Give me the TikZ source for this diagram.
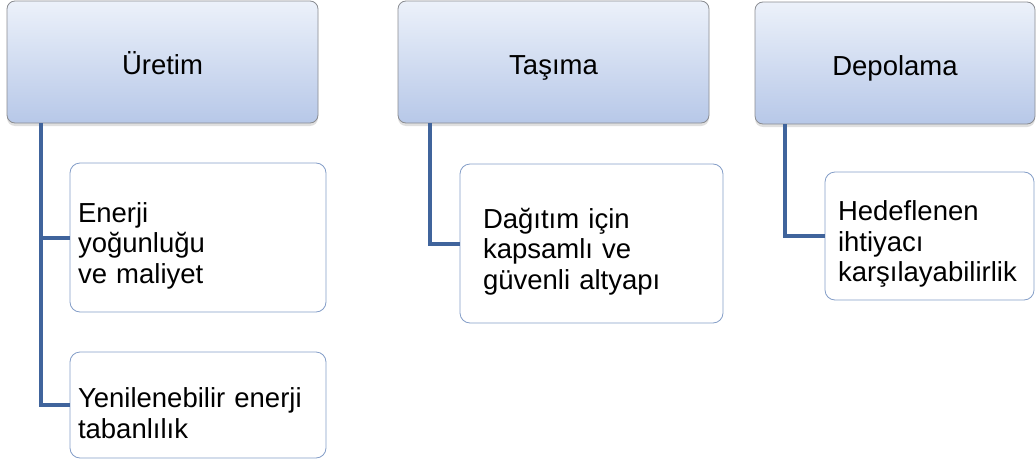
\documentclass[tikz,border=0pt]{standalone}
\usepackage{fontspec}
\setmainfont{Liberation Sans}
\usepackage{tikz}
\usetikzlibrary{shadows}

\definecolor{headtop}{RGB}{236,241,250}
\definecolor{headbot}{RGB}{183,200,232}
\definecolor{headline}{RGB}{138,140,145}
\definecolor{itemline}{RGB}{132,158,200}
\definecolor{branch}{RGB}{64,100,156}

\tikzset{
	head/.style={shape=rectangle, rounded corners=8pt, draw=headline, line width=0.8pt,
		top color=headtop, bottom color=headbot, minimum height=122pt,
		text height=26pt, text depth=2pt,
		drop shadow={shadow xshift=0pt, shadow yshift=-3pt, opacity=0.25},
		font=\fontsize{27.5}{31}\selectfont},
	item/.style={shape=rectangle, rounded corners=10pt, draw=itemline, line width=0.8pt,
		fill=white, align=left, inner ysep=0pt, font=\fontsize{27.5}{30.5}\selectfont,
		execute at begin node={\rule{0pt}{36pt}}},
	link/.style={draw=branch, line width=4pt}
}

\begin{document}
\begin{tikzpicture}[x=1pt, y=-1pt]
	\useasboundingbox (0,0) rectangle (1036,463);

	\node (uretim) at (162.5,62) [head, minimum width=311pt] {Üretim};
	\node (tasima) at (553.5,62) [head, minimum width=311pt] {Taşıma};
	\node (depolama) at (895,63) [head, minimum width=280pt] {Depolama};

	\node (enerji) at (198,237.5) [item, inner xsep=8pt, text width=240pt, minimum height=149pt] {Enerji\\yoğunluğu\\ve maliyet};
	\node (yenilenebilir) at (198,405) [item, inner xsep=8pt, text width=240pt, minimum height=106pt] {Yenilenebilir enerji\\tabanlılık};
	\node (dagitim) at (591.5,243.5) [item, inner xsep=23pt, text width=217pt, minimum height=159pt] {Dağıtım için\\kapsamlı ve\\güvenli altyapı};
	\node (hedef) at (929.5,236) [item, inner xsep=13pt, text width=183pt, minimum height=128pt] {Hedeflenen\\ihtiyacı\\karşılayabilirlik};

	\path	[link]	([xshift=34pt]uretim.south west)	edge[to path={|- (\tikztotarget)}]	(enerji.west)
						edge[to path={|- (\tikztotarget)}]	(yenilenebilir.west)
			([xshift=32pt]tasima.south west)	edge[to path={|- (\tikztotarget)}]	(dagitim.west)
			([xshift=30pt]depolama.south west)	edge[to path={|- (\tikztotarget)}]	(hedef.west);
\end{tikzpicture}
\end{document}
